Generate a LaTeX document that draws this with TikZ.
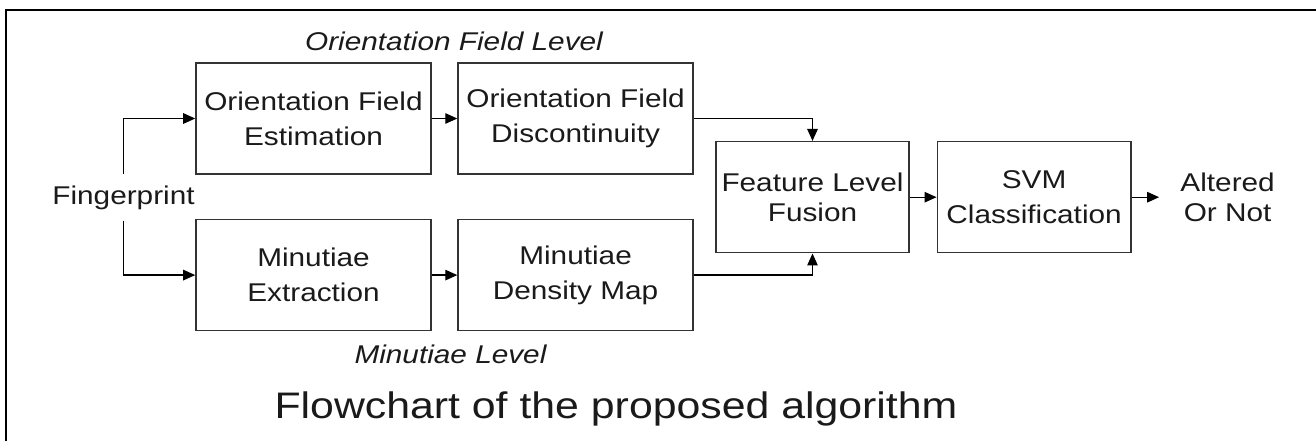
\documentclass[tikz,border=0pt]{standalone}
\usepackage{fontspec}
\setmainfont[FakeStretch=1.16]{Liberation Sans}
\usepackage{xcolor}
\usepackage{tikz}
\usetikzlibrary{positioning,arrows.meta}

\definecolor{boxline}{HTML}{333333}
\definecolor{ink}{HTML}{1A1A1A}

\begin{document}
\begin{tikzpicture}[auto,
block/.style={rectangle,draw=boxline,line width=0.9pt,inner sep=0pt,minimum width=4.7cm,minimum height=2.22cm,align=center,text=ink,font=\fontsize{14.6}{20}\selectfont},
fuse/.style={block,minimum width=3.87cm},
plain/.style={inner sep=0pt,align=center,text=ink,font=\fontsize{14.6}{17}\selectfont},
level/.style={inner sep=0pt,anchor=base,text=ink,font=\fontsize{14.6}{17}\selectfont\itshape},
paths/.style={line width=0.7pt,-{Triangle[length=2.4mm,width=2.1mm]}},
frame/.style={line width=1.1pt}
]
\useasboundingbox (0,0) rectangle (26.32,8.82);

%frame
\draw[frame] (0.12,0) |- (26.32,8.62);

%create nodes
\node[block] (ofe) at (6.27,6.45) {Orientation Field\\Estimation};
\node[block, right=0.51cm of ofe] (ofd) {Orientation Field\\Discontinuity};
\node[block, below=0.88cm of ofe] (me) {Minutiae\\Extraction};
\node[block, right=0.51cm of me] (mdm) {Minutiae\\Density Map};

\node[plain, inner ysep=0.22cm, anchor=base] (fp) at (2.47,4.74) {Fingerprint};

\node[fuse, font=\fontsize{14.6}{17}\selectfont] (fusion) at (16.25,4.876) {Feature Level\\Fusion};
\node[fuse, right=0.53cm of fusion] (svm) {SVM\\Classification};
\node[plain, inner xsep=0.42cm, right=0.55cm of svm] (out) {Altered\\Or Not};

\node[level] (oflevel) at (9.08,7.82) {Orientation Field Level};
\node[level] (mlevel) at (9.01,1.56) {Minutiae Level};
\node[inner sep=0pt,anchor=base,text=ink,font=\fontsize{21}{24}\selectfont] (title) at (12.32,0.46) {Flowchart of the proposed algorithm};

%draw paths
\draw[paths] (fp.north) |- (ofe.west);
\draw[paths] (fp.south) |- (me.west);

\draw[paths] (ofe) -- (ofd);
\draw[paths] (me) -- (mdm);

\draw[paths] (ofd.east) -| (fusion.north);
\draw[paths] (mdm.east) -| (fusion.south);

\draw[paths] (fusion) -- (svm);
\draw[paths] (svm) -- (out.west);

\end{tikzpicture}
\end{document}
